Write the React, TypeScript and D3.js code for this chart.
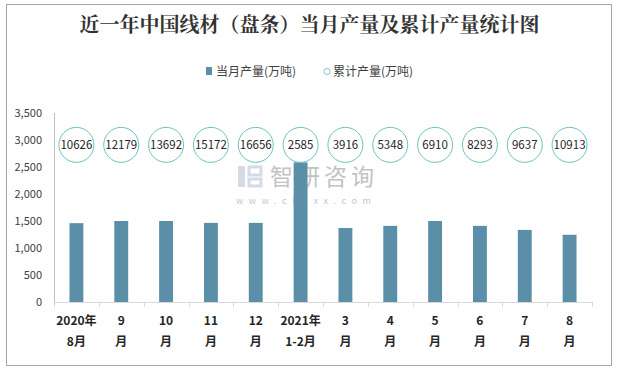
import React, { useEffect, useRef } from 'react';
import * as d3 from 'd3';

const months = ['2020年\n8月', '9\n月', '10\n月', '11\n月', '12\n月', '2021年\n1-2月', '3\n月', '4\n月', '5\n月', '6\n月', '7\n月', '8\n月'];
const monthly = [1460, 1500, 1500, 1465, 1465, 2585, 1370, 1410, 1500, 1410, 1335, 1245];
const cumulative = [10626, 12179, 13692, 15172, 16656, 2585, 3916, 5348, 6910, 8293, 9637, 10913];
const yTicks = [0, 500, 1000, 1500, 2000, 2500, 3000, 3500];

const W = 619;
const H = 371;
const font = '"Noto Sans CJK SC", "Noto Sans", sans-serif';

const App: React.FC = () => {
  const svgRef = useRef<SVGSVGElement>(null);

  useEffect(() => {
    if (!svgRef.current) return;
    const svg = d3.select(svgRef.current);
    svg.selectAll('*').remove();

    const left = 54, right = 592, top = 113, bottom = 302;

    svg.append('rect')
      .attr('x', 0).attr('y', 0).attr('width', W).attr('height', H)
      .attr('fill', '#fff');
    svg.append('rect')
      .attr('x', 6.5).attr('y', 4.5).attr('width', 605).attr('height', 361)
      .attr('fill', '#fff').attr('stroke', '#a6a6a6');

    // title
    svg.append('text')
      .attr('x', W / 2).attr('y', 32)
      .attr('text-anchor', 'middle')
      .attr('fill', '#333')
      .style('font-family', '"Noto Serif CJK SC", "Noto Sans CJK SC", serif')
      .style('font-size', '20px')
      .style('font-weight', 'bold')
      .text('近一年中国线材（盘条）当月产量及累计产量统计图');

    // legend
    const lg = svg.append('g').style('font-family', font).style('font-size', '12px');
    lg.append('rect').attr('x', 206).attr('y', 67).attr('width', 6).attr('height', 8).attr('fill', '#5b8fa8');
    lg.append('text').attr('x', 216).attr('y', 75.5).attr('fill', '#404040').text('当月产量(万吨)');
    lg.append('circle').attr('cx', 327).attr('cy', 71.5).attr('r', 3).attr('fill', 'none').attr('stroke', '#7cc8c0').attr('stroke-width', 1);
    lg.append('text').attr('x', 333).attr('y', 75.5).attr('fill', '#404040').text('累计产量(万吨)');

    const x = d3.scaleBand<number>()
      .domain(d3.range(months.length))
      .range([left, right])
      .paddingInner(0.69)
      .paddingOuter(0.345);
    const band = (right - left) / months.length;
    const y = d3.scaleLinear().domain([0, 3500]).range([bottom, top]);

    // y axis
    svg.append('line').attr('x1', left + 0.5).attr('x2', left + 0.5).attr('y1', top).attr('y2', bottom)
      .attr('stroke', '#bfbfbf');
    svg.append('g').selectAll('text').data(yTicks).join('text')
      .attr('x', 42).attr('y', d => y(d) + 4)
      .attr('text-anchor', 'end')
      .attr('fill', '#404040')
      .style('font-family', font)
      .style('font-size', '11px')
      .text(d => d3.format(',')(d));

    // watermark
    const wm = svg.append('g').attr('opacity', 0.6);
    wm.append('rect').attr('x', 238).attr('y', 166).attr('width', 7).attr('height', 21).attr('fill', '#b8c4d8');
    wm.append('rect').attr('x', 249).attr('y', 167).attr('width', 12).attr('height', 8).attr('fill', 'none').attr('stroke', '#b8c4d8').attr('stroke-width', 3);
    wm.append('rect').attr('x', 249).attr('y', 179).attr('width', 12).attr('height', 7).attr('fill', 'none').attr('stroke', '#b8c4d8').attr('stroke-width', 3);
    wm.append('text').attr('x', 270).attr('y', 185)
      .attr('fill', '#9a9a9a')
      .style('font-family', font).style('font-size', '23px').style('letter-spacing', '4px')
      .text('智研咨询');
    wm.append('text').attr('x', 236).attr('y', 204)
      .attr('fill', '#a0a0a0')
      .style('font-family', font).style('font-size', '9px').style('letter-spacing', '5.6px')
      .text('www.chyxx.com');

    // bars
    svg.append('g').selectAll('rect').data(monthly).join('rect')
      .attr('x', (d, i) => x(i)!)
      .attr('y', d => y(d))
      .attr('width', x.bandwidth())
      .attr('height', d => bottom - y(d))
      .attr('fill', '#5b8fa8');

    // x axis
    svg.append('line').attr('x1', left).attr('x2', right).attr('y1', bottom + 0.5).attr('y2', bottom + 0.5)
      .attr('stroke', '#d9d9d9');
    svg.append('g').selectAll('line').data(d3.range(months.length + 1)).join('line')
      .attr('x1', i => Math.round(left + i * band) + 0.5)
      .attr('x2', i => Math.round(left + i * band) + 0.5)
      .attr('y1', bottom).attr('y2', bottom + 5)
      .attr('stroke', '#d9d9d9');

    const xl = svg.append('g').style('font-family', font).style('font-size', '12px').style('font-weight', 'bold');
    months.forEach((m, i) => {
      const cx = x(i)! + x.bandwidth() / 2;
      m.split('\n').forEach((line, j) => {
        xl.append('text')
          .attr('x', cx).attr('y', 325 + j * 21)
          .attr('text-anchor', 'middle')
          .attr('fill', '#262626')
          .text(line);
      });
    });

    // cumulative circles
    const cy = y(2910);
    const cg = svg.append('g').style('font-family', font).style('font-size', '11.5px');
    cumulative.forEach((v, i) => {
      const cx = x(i)! + x.bandwidth() / 2;
      cg.append('circle').attr('cx', cx).attr('cy', cy).attr('r', 17.5)
        .attr('fill', 'none').attr('stroke', '#6cc3bb').attr('stroke-width', 1);
      cg.append('text').attr('x', cx).attr('y', cy + 4)
        .attr('text-anchor', 'middle').attr('fill', '#262626')
        .text(String(v));
    });
  }, []);

  return (
    <div style={{ position: 'absolute', left: 0, top: 0 }}>
      <svg ref={svgRef} width={W} height={H}></svg>
    </div>
  );
};

export default App;
